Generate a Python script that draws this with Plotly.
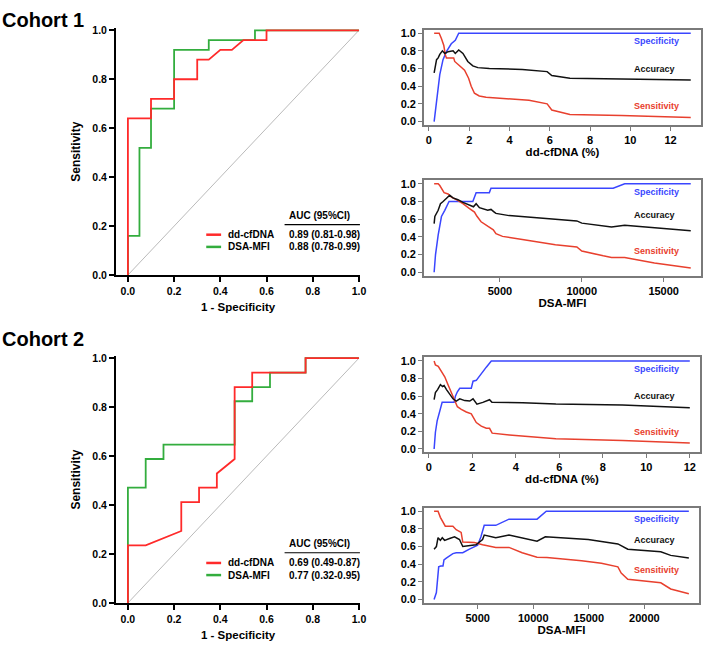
import plotly.graph_objects as go

W, H = 709, 650
FONT = "Liberation Sans, Arial, Helvetica, sans-serif"

# ---------------- DATA ----------------
# Cohort 1 ROC
c1_dd_fpr = [0, 0, 0.1, 0.1, 0.2, 0.2, 0.3, 0.3, 0.35, 0.4, 0.45, 0.5, 0.6, 0.6, 1.0]
c1_dd_tpr = [0, 0.64, 0.64, 0.72, 0.72, 0.80, 0.80, 0.88, 0.88, 0.92, 0.92, 0.96, 0.96, 1.0, 1.0]
c1_mfi_fpr = [0, 0, 0.05, 0.05, 0.1, 0.1, 0.2, 0.2, 0.35, 0.35, 0.55, 0.55, 1.0]
c1_mfi_tpr = [0, 0.16, 0.16, 0.52, 0.52, 0.68, 0.68, 0.92, 0.92, 0.96, 0.96, 1.0, 1.0]

# Cohort 2 ROC
c2_dd_fpr = [0, 0, 0.077, 0.231, 0.231, 0.308, 0.308, 0.385, 0.385, 0.462, 0.462, 0.538, 0.538, 0.769, 0.769, 1.0]
c2_dd_tpr = [0, 0.235, 0.235, 0.294, 0.412, 0.412, 0.471, 0.471, 0.529, 0.588, 0.882, 0.882, 0.941, 0.941, 1.0, 1.0]
c2_mfi_fpr = [0, 0, 0.077, 0.077, 0.154, 0.154, 0.462, 0.462, 0.538, 0.538, 0.615, 0.615, 0.769, 0.769, 1.0]
c2_mfi_tpr = [0, 0.471, 0.471, 0.588, 0.588, 0.647, 0.647, 0.824, 0.824, 0.882, 0.882, 0.941, 0.941, 1.0, 1.0]

roc_names = ["dd-cfDNA", "DSA-MFI"]
c1_auc = ["0.89 (0.81-0.98)", "0.88 (0.78-0.99)"]
c2_auc = ["0.69 (0.49-0.87)", "0.77 (0.32-0.95)"]

# Cohort 1 dd-cfDNA cut-off curves
c1_dd_spec_x = [0.26, 0.38, 0.54, 0.70, 0.87, 1.11, 1.31, 1.48, 13.0]
c1_dd_spec_y = [0.0, 0.23, 0.53, 0.70, 0.79, 0.88, 0.92, 1.0, 1.0]
c1_dd_sens_x = [0.26, 0.51, 0.62, 0.74, 0.82, 0.87, 1.23, 1.28, 1.48, 1.77, 1.97, 2.10, 2.26, 2.50, 2.84, 3.82, 4.97, 5.87, 6.10, 7.0, 9.56, 13.0]
c1_dd_sens_y = [1.0, 1.0, 0.94, 0.86, 0.75, 0.72, 0.72, 0.68, 0.64, 0.58, 0.49, 0.40, 0.32, 0.29, 0.275, 0.26, 0.24, 0.20, 0.13, 0.08, 0.07, 0.045]
c1_dd_acc_x = [0.26, 0.38, 0.46, 0.54, 0.67, 0.79, 0.95, 1.20, 1.31, 1.48, 1.69, 1.93, 2.18, 2.43, 3.0, 4.64, 5.87, 6.10, 7.0, 9.56, 13.0]
c1_dd_acc_y = [0.55, 0.70, 0.72, 0.76, 0.80, 0.77, 0.79, 0.80, 0.77, 0.81, 0.77, 0.68, 0.63, 0.61, 0.60, 0.59, 0.565, 0.52, 0.49, 0.48, 0.47]

# Cohort 1 DSA-MFI cut-off curves
c1_mfi_spec_x = [985, 1069, 1230, 1431, 1633, 1895, 3347, 3548, 4355, 4456, 11915, 12620, 16653]
c1_mfi_spec_y = [0.0, 0.20, 0.42, 0.63, 0.70, 0.80, 0.80, 0.90, 0.90, 0.95, 0.95, 1.0, 1.0]
c1_mfi_sens_x = [985, 1230, 1330, 1472, 1593, 1835, 2036, 2339, 2742, 3145, 3448, 3589, 3851, 4254, 4597, 4758, 5161, 6371, 8387, 9698, 10000, 11310, 11815, 12620, 14435, 16653]
c1_mfi_sens_y = [1.0, 1.0, 0.98, 0.94, 0.90, 0.885, 0.85, 0.82, 0.775, 0.72, 0.68, 0.635, 0.57, 0.52, 0.48, 0.435, 0.405, 0.37, 0.31, 0.285, 0.24, 0.185, 0.166, 0.166, 0.103, 0.048]
c1_mfi_acc_x = [985, 1028, 1230, 1371, 1532, 1774, 1935, 2137, 2440, 2742, 3145, 3387, 3548, 3750, 4254, 4456, 4657, 4758, 5565, 7379, 9698, 10000, 11310, 11815, 12620, 14435, 16653]
c1_mfi_acc_y = [0.55, 0.63, 0.70, 0.775, 0.80, 0.84, 0.87, 0.84, 0.82, 0.79, 0.76, 0.74, 0.775, 0.73, 0.70, 0.71, 0.68, 0.665, 0.64, 0.615, 0.58, 0.555, 0.525, 0.51, 0.53, 0.50, 0.47]

# Cohort 2 dd-cfDNA cut-off curves
c2_dd_spec_x = [0.24, 0.30, 0.38, 0.47, 0.53, 0.61, 1.16, 1.22, 1.31, 1.42, 1.95, 2.03, 2.18, 2.41, 2.64, 2.87, 12.0]
c2_dd_spec_y = [0.0, 0.19, 0.32, 0.40, 0.47, 0.53, 0.53, 0.60, 0.65, 0.69, 0.69, 0.77, 0.78, 0.86, 0.93, 1.0, 1.0]
c2_dd_sens_x = [0.24, 0.30, 0.43, 0.58, 0.73, 0.88, 1.04, 1.19, 1.31, 1.49, 1.72, 1.95, 2.18, 2.41, 2.64, 2.79, 2.91, 3.70, 5.84, 8.9, 12.0]
c2_dd_sens_y = [1.0, 0.955, 0.94, 0.88, 0.82, 0.73, 0.64, 0.545, 0.48, 0.45, 0.42, 0.40, 0.30, 0.26, 0.235, 0.235, 0.18, 0.16, 0.115, 0.097, 0.067]
c2_dd_acc_x = [0.24, 0.30, 0.40, 0.53, 0.63, 0.70, 0.81, 0.96, 1.11, 1.26, 1.42, 1.65, 1.88, 2.03, 2.21, 2.48, 2.79, 2.90, 4.31, 5.84, 8.9, 12.0]
c2_dd_acc_y = [0.56, 0.64, 0.675, 0.73, 0.71, 0.72, 0.675, 0.62, 0.57, 0.545, 0.57, 0.55, 0.545, 0.57, 0.51, 0.53, 0.56, 0.53, 0.525, 0.51, 0.50, 0.47]

# Cohort 2 DSA-MFI cut-off curves
c2_mfi_spec_x = [1078, 1286, 1494, 1672, 1880, 1970, 2178, 2771, 3068, 3662, 4256, 4998, 5296, 5592, 6632, 7820, 10345, 11176, 24006]
c2_mfi_spec_y = [0.0, 0.08, 0.37, 0.38, 0.38, 0.45, 0.47, 0.52, 0.53, 0.53, 0.57, 0.615, 0.71, 0.84, 0.84, 0.91, 0.91, 1.0, 1.0]
c2_mfi_sens_x = [1078, 1434, 1643, 1940, 2088, 2771, 3068, 3514, 3662, 4702, 5444, 6632, 7820, 9008, 10345, 11236, 14354, 16136, 17621, 17918, 18512, 21482, 22373, 24006]
c2_mfi_sens_y = [1.0, 1.0, 0.93, 0.87, 0.83, 0.83, 0.79, 0.76, 0.65, 0.645, 0.62, 0.59, 0.59, 0.53, 0.48, 0.475, 0.44, 0.41, 0.37, 0.30, 0.23, 0.19, 0.12, 0.067]
c2_mfi_acc_x = [1078, 1286, 1434, 1643, 1816, 2024, 2474, 2920, 3365, 3662, 4850, 5444, 5592, 6632, 7820, 9008, 10345, 11088, 14948, 17621, 18512, 21482, 22373, 24006]
c2_mfi_acc_y = [0.57, 0.60, 0.70, 0.67, 0.70, 0.67, 0.69, 0.71, 0.68, 0.60, 0.62, 0.68, 0.73, 0.70, 0.73, 0.70, 0.66, 0.71, 0.68, 0.63, 0.57, 0.54, 0.50, 0.47]

curve_labels = ["Specificity", "Accuracy", "Sensitivity"]

# ---------------- STYLE ----------------
RED_ROC = "#ff2a2a"
GREEN_ROC = "#33ad3e"
BLUE = "#3a46ff"
RED = "#e8402e"
BLACK = "#111111"


def pxx(p):
    return p / W


def pxy(p):
    return 1 - p / H


def padded(xs):
    lo, hi = min(xs), max(xs)
    s = hi - lo
    return [lo - 0.04 * s, hi + 0.04 * s]


fig = go.Figure()

# ROC traces
for ax, (fx_dd, ty_dd, fx_m, ty_m) in zip(
        ["", "4"],
        [(c1_dd_fpr, c1_dd_tpr, c1_mfi_fpr, c1_mfi_tpr),
         (c2_dd_fpr, c2_dd_tpr, c2_mfi_fpr, c2_mfi_tpr)]):
    xa, ya = "x" + ax, "y" + ax
    fig.add_trace(go.Scatter(x=[0, 1], y=[0, 1], mode="lines", xaxis=xa, yaxis=ya,
                             line=dict(color="#a8a8a8", width=0.8), showlegend=False, hoverinfo="skip"))
    fig.add_trace(go.Scatter(x=fx_m, y=ty_m, mode="lines", xaxis=xa, yaxis=ya, name=roc_names[1],
                             line=dict(color=GREEN_ROC, width=1.8), showlegend=False))
    fig.add_trace(go.Scatter(x=fx_dd, y=ty_dd, mode="lines", xaxis=xa, yaxis=ya, name=roc_names[0],
                             line=dict(color=RED_ROC, width=1.8), showlegend=False))

# cut-off curves
panels = [
    ("2", c1_dd_spec_x, c1_dd_spec_y, c1_dd_sens_x, c1_dd_sens_y, c1_dd_acc_x, c1_dd_acc_y),
    ("3", c1_mfi_spec_x, c1_mfi_spec_y, c1_mfi_sens_x, c1_mfi_sens_y, c1_mfi_acc_x, c1_mfi_acc_y),
    ("5", c2_dd_spec_x, c2_dd_spec_y, c2_dd_sens_x, c2_dd_sens_y, c2_dd_acc_x, c2_dd_acc_y),
    ("6", c2_mfi_spec_x, c2_mfi_spec_y, c2_mfi_sens_x, c2_mfi_sens_y, c2_mfi_acc_x, c2_mfi_acc_y),
]
for ax, sx, sy, nx, ny, axx, ayy in panels:
    xa, ya = "x" + ax, "y" + ax
    fig.add_trace(go.Scatter(x=sx, y=sy, mode="lines", xaxis=xa, yaxis=ya, name="Specificity",
                             line=dict(color=BLUE, width=1.5), showlegend=False))
    fig.add_trace(go.Scatter(x=nx, y=ny, mode="lines", xaxis=xa, yaxis=ya, name="Sensitivity",
                             line=dict(color=RED, width=1.5), showlegend=False))
    fig.add_trace(go.Scatter(x=axx, y=ayy, mode="lines", xaxis=xa, yaxis=ya, name="Accuracy",
                             line=dict(color=BLACK, width=1.5), showlegend=False))

bold = dict(family=FONT, color="black", weight="bold")

roc_ticks = [0, 0.2, 0.4, 0.6, 0.8, 1.0]


def roc_axes(xkey, ykey, ytop, ybot):
    px_per = 233.0
    x0 = 129.0
    xr = [-0.0515, 1.005]
    xd = [pxx(x0 + xr[0] * px_per), pxx(x0 + xr[1] * px_per)]
    ypu = (ybot - ytop)
    yr = [0, 1.008]
    yd = [pxy(ybot), pxy(ybot - yr[1] * ypu)]
    common = dict(showline=True, linecolor="black", linewidth=2, ticks="outside", ticklen=5,
                  tickwidth=2, tickcolor="black", showgrid=False, zeroline=False,
                  tickvals=roc_ticks, tickformat=".1f", tickfont=dict(size=10.5, **bold))
    fig.layout[xkey] = dict(domain=xd, range=xr, anchor=ykey.replace("axis", ""),
                            title=dict(text="1 - Specificity", font=dict(size=11.5, **bold), standoff=7),
                            **common)
    fig.layout[ykey] = dict(domain=yd, range=yr, anchor=xkey.replace("axis", ""),
                            title=dict(text="Sensitivity", font=dict(size=12, **bold), standoff=9),
                            **common)


roc_axes("xaxis", "yaxis", 26.7, 275.3)
roc_axes("xaxis4", "yaxis4", 359.7, 608.3)

right_specs = [
    ("2", [427.5, 707.0], [26.0, 123.0], c1_dd_spec_x + c1_dd_sens_x, [0, 2, 4, 6, 8, 10, 12], "dd-cfDNA (%)"),
    ("3", [427.5, 707.0], [179.0, 276.0], c1_mfi_spec_x + c1_mfi_sens_x, [5000, 10000, 15000], "DSA-MFI"),
    ("5", [427.5, 706.0], [359.0, 455.5], c2_dd_spec_x + c2_dd_sens_x, [0, 2, 4, 6, 8, 10, 12], "dd-cfDNA (%)"),
    ("6", [427.5, 705.0], [511.5, 608.5], c2_mfi_spec_x + c2_mfi_sens_x, [5000, 10000, 15000, 20000], "DSA-MFI"),
]
for ax, xpx, ypx, xs, xt, title in right_specs:
    common = dict(showline=True, mirror=True, linecolor="#7a7a7a", linewidth=1.5, ticks="outside",
                  ticklen=4, tickwidth=1, tickcolor="#7a7a7a", showgrid=False, zeroline=False,
                  tickfont=dict(size=11, **bold))
    fig.layout["xaxis" + ax] = dict(domain=[pxx(xpx[0]), pxx(xpx[1])], range=padded(xs), anchor="y" + ax,
                                    tickvals=xt, ticktext=[str(v) for v in xt],
                                    title=dict(text=title, font=dict(size=11.5, **bold), standoff=3), **common)
    fig.layout["yaxis" + ax] = dict(domain=[pxy(ypx[1]), pxy(ypx[0])], range=[-0.04, 1.04], anchor="x" + ax,
                                    tickvals=roc_ticks, tickformat=".1f", **common)

annotations = []
shapes = []

# Cohort titles
for txt, yc in [("Cohort 1", 16), ("Cohort 2", 340)]:
    annotations.append(dict(text=txt, x=pxx(0), y=pxy(yc), xref="paper", yref="paper", xanchor="left",
                            yanchor="middle", showarrow=False, font=dict(size=20, **bold)))

# right panel labels
label_pos = [
    (38, 65.7, 103.7), (191, 214.3, 250.7), (370.7, 398, 434.3), (522.7, 544.3, 574.7)
]
for ys in label_pos:
    for lab, col, yy in zip(curve_labels, [BLUE, BLACK, RED], ys):
        annotations.append(dict(text=lab, x=pxx(637.5), y=pxy(yy), xref="paper", yref="paper",
                                xanchor="left", yanchor="middle", showarrow=False,
                                font=dict(size=9, family=FONT, color=col, weight="bold")))

# ROC legends
for aucs, yh, yu, y1, y2 in [(c1_auc, 214.3, 224.0, 234.3, 246.7), (c2_auc, 547.7, 557.3, 567.7, 580.0)]:
    annotations.append(dict(text="AUC (95%CI)", x=pxx(289.5), y=pxy(yh), xref="paper", yref="paper",
                            xanchor="left", yanchor="middle", showarrow=False, font=dict(size=10, **bold)))
    shapes.append(dict(type="line", xref="paper", yref="paper", x0=pxx(287), x1=pxx(363),
                       y0=pxy(yu), y1=pxy(yu), line=dict(color="black", width=1.2)))
    for name, auc, col, yy in zip(roc_names, aucs, [RED_ROC, GREEN_ROC], [y1, y2]):
        shapes.append(dict(type="line", xref="paper", yref="paper", x0=pxx(208), x1=pxx(223),
                           y0=pxy(yy), y1=pxy(yy), line=dict(color=col, width=2.5)))
        annotations.append(dict(text=name, x=pxx(228), y=pxy(yy), xref="paper", yref="paper",
                                xanchor="left", yanchor="middle", showarrow=False, font=dict(size=10, **bold)))
        annotations.append(dict(text=auc, x=pxx(289.5), y=pxy(yy), xref="paper", yref="paper",
                                xanchor="left", yanchor="middle", showarrow=False, font=dict(size=10, **bold)))

fig.update_layout(width=W, height=H, margin=dict(l=0, r=0, t=0, b=0),
                  paper_bgcolor="white", plot_bgcolor="white", showlegend=False,
                  annotations=annotations, shapes=shapes, font=dict(family=FONT))

fig.write_html("out.html", config={"displayModeBar": False},
               post_script="document.body.style.margin='0px';document.body.style.overflow='hidden';")
